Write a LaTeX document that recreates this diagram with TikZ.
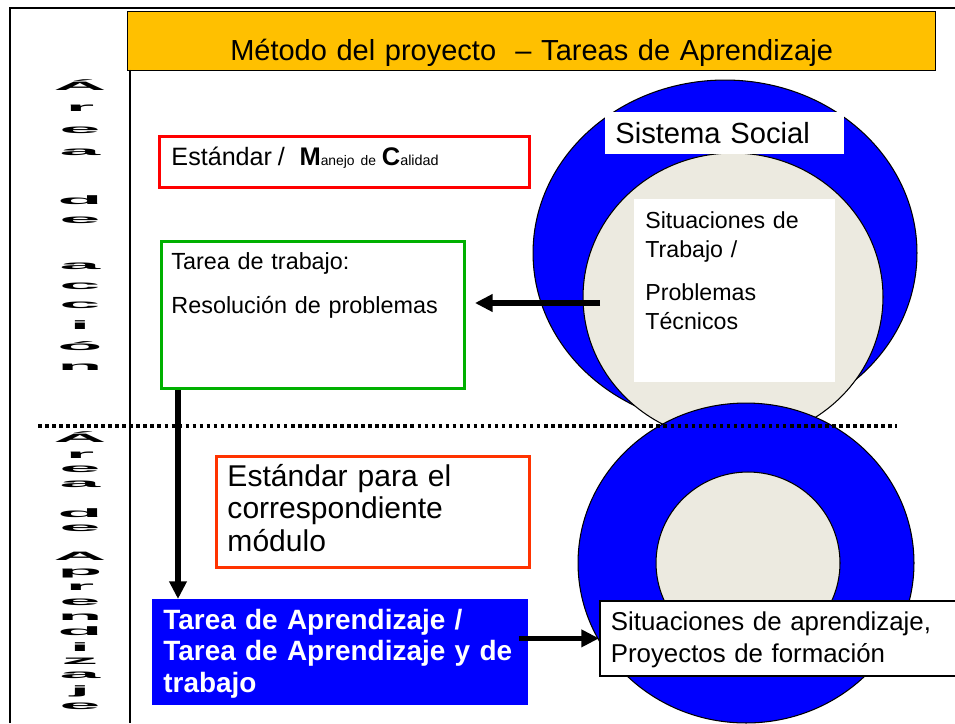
\documentclass[tikz,border=0pt]{standalone}
\usepackage{fontspec}
\setmainfont{Liberation Sans}
\usetikzlibrary{arrows.meta,shapes.geometric,positioning,calc}
\definecolor{barorange}{RGB}{255,192,0}
\definecolor{ringblue}{RGB}{0,0,255}
\definecolor{coreface}{RGB}{236,234,224}
\definecolor{qualred}{RGB}{255,0,0}
\definecolor{taskgreen}{RGB}{0,176,0}
\definecolor{stdorange}{RGB}{255,51,0}
\newcommand\widechar[1]{\scalebox{5.4}[0.9]{#1}}

\begin{document}
\begin{tikzpicture}[x=0.02cm, y=-0.02cm,
    frame/.style={line width=1.6pt},
    box/.style={rectangle, anchor=north west, inner ysep=0pt, align=left},
    ring/.style={ellipse, draw=black, line width=0.6pt, fill=ringblue, inner sep=0pt},
    core/.style={ellipse, draw=black, line width=0.6pt, fill=coreface, inner sep=0pt},
    vletter/.style={inner sep=0pt, font=\bfseries\fontsize{7.7}{8}\selectfont},
    arrow/.style={-{Triangle[length=10pt,width=9.5pt]}, line width=3pt}
]
\useasboundingbox (0,0) rectangle (955,723);
\clip (0,0) rectangle (955,723);

% Circles (social system / learning situations)
\node[ring, minimum width=7.68cm, minimum height=6.92cm] (sysout) at (725,253) {};
\node[core, minimum width=6cm, minimum height=5.76cm] (sysin) at (733,297) {};
\node[box, fill=white, inner xsep=0.2cm, text width=4.38cm, text height=0.62cm, text depth=0.22cm,
      font=\fontsize{16.6}{19}\selectfont] (social) at (605,112) {Sistema Social};
\node[box, fill=white, inner xsep=0.22cm, text width=3.58cm, text height=0.58cm, text depth=3.08cm,
      font=\fontsize{13.2}{16.5}\selectfont] (sitwork) at (634,199)
      {Situaciones de\\Trabajo /\\[8pt]Problemas\\Técnicos};
\node[ring, minimum width=6.72cm, minimum height=6.4cm] (lrnout) at (746,563) {};
\node[core, minimum width=3.68cm, minimum height=3.64cm] (lrnin) at (748,563) {};

% Title bar
\node[box, draw=black, line width=0.8pt, fill=barorange, inner xsep=0pt, text width=16.16cm,
      align=center, text height=0.98cm, text depth=0.2cm, font=\fontsize{16.5}{19}\selectfont]
      (title) at (127,11) {Método del proyecto\ \ – Tareas de Aprendizaje};

% Frame
\draw[frame] (10,723) -- (10,8) -- (955,8);
\draw[line width=1.2pt] (130,70) -- (130,723);

% Upper area
\node[box, draw=qualred, line width=1.7pt, inner xsep=0.24cm, text width=6.92cm, text height=0.58cm,
      text depth=0.44cm] (qual) at (158,135)
      {\fontsize{14.3}{17}\selectfont Estándar /\hspace{5pt} \fontsize{14.5}{15}\selectfont\textbf{M}\fontsize{7.9}{9}\selectfont anejo de
       \fontsize{14.5}{15}\selectfont\textbf{C}\fontsize{8.2}{9}\selectfont alidad};
\node[box, draw=taskgreen, line width=1.7pt, inner xsep=0.2cm, text width=5.66cm, text height=0.56cm,
      text depth=2.38cm, font=\fontsize{13.3}{25}\selectfont] (task) at (160,240)
      {Tarea de trabajo:\\Resolución de problemas};

% Lower area
\node[box, draw=stdorange, line width=1.7pt, inner xsep=0.22cm, text width=5.82cm, text height=0.6cm,
      text depth=1.62cm, font=\fontsize{17.1}{18.5}\selectfont] (stdmod) at (215,455)
      {Estándar para el\\correspondiente\\módulo};
\node[box, fill=ringblue, text=white, inner xsep=0.22cm, text width=7.08cm, text height=0.6cm,
      text depth=1.52cm, font=\bfseries\fontsize{15.9}{17.9}\selectfont] (learn) at (152,599)
      {Tarea de Aprendizaje /\\Tarea de Aprendizaje y de\\trabajo};
\node[box, draw=black, fill=white, line width=1pt, inner xsep=0.22cm, text width=7.4cm, text height=0.6cm,
      text depth=0.9cm, font=\fontsize{14.7}{18.2}\selectfont] (lsit) at (599,600)
      {Situaciones de aprendizaje,\\Proyectos de formación};

% Dotted divider
\draw[line width=2pt, dash pattern=on 2pt off 2pt] (38,426) -- (897,426);

% Vertical labels
\foreach \ch/\yy [count=\i] in {Á/85,r/108,e/130,a/152,d/200,e/220,a/266,c/286,c/305,i/325,ó/346,n/367}
  \node[vletter] (acc\i) at (80,\yy) {\widechar{\ch}};
\foreach \ch/\yy [count=\i] in {Á/437,r/455,e/469,a/484,d/513,e/528,A/556,p/573,r/587,e/602,n/617,d/631,i/647,z/661,a/675,j/691,e/706}
  \node[vletter] (apr\i) at (80,\yy) {\widechar{\ch}};

% Arrows
\coordinate (probsrc) at (600,303);
\draw[arrow, shorten >=9*0.02cm] (probsrc) -- (probsrc -| task.east);
\draw[arrow] ([xshift=0.36cm]task.south west) -- ([xshift=0.36cm]task.south west |- learn.north);
\draw[arrow] ([xshift=-0.2cm]learn.east |- lsit.west) -- (lsit.west);

\end{tikzpicture}
\end{document}
